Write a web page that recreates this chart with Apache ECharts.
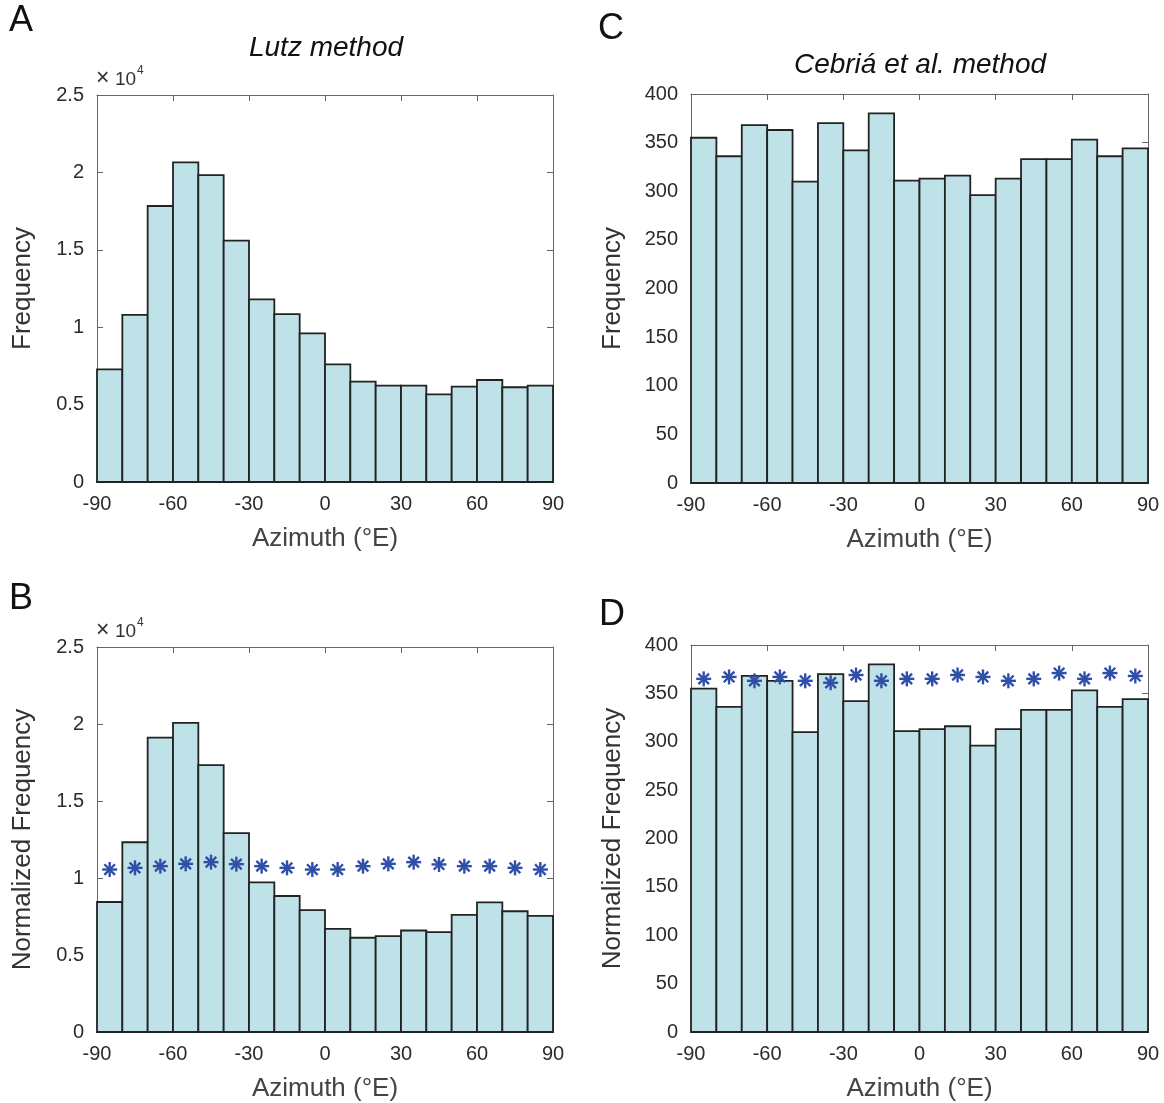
<!DOCTYPE html>
<html>
<head>
<meta charset="utf-8">
<script src="https://cdn.jsdelivr.net/npm/echarts@6/dist/echarts.min.js"></script>
<style>
  html, body { margin: 0; padding: 0; background: #fff; }
  #chart { width: 1164px; height: 1103px; }
</style>
</head>
<body>
<div id="chart"></div>
<script>
// bin edges of the azimuth histograms (°E)
const binEdges = [-90, -80, -70, -60, -50, -40, -30, -20, -10, 0, 10, 20, 30, 40, 50, 60, 70, 80, 90];
const binCenters = [-85, -75, -65, -55, -45, -35, -25, -15, -5, 5, 15, 25, 35, 45, 55, 65, 75, 85];

// A: Lutz method, raw counts
const lutzCounts = [7280, 10790, 17830, 20650, 19830, 15590, 11800, 10850, 9600, 7600, 6480, 6220, 6230, 5660, 6160, 6590, 6120, 6230];
// B: Lutz method, normalized counts and asterisk values
const lutzNormalized = [8440, 12320, 19120, 20070, 17330, 12920, 9710, 8830, 7920, 6700, 6120, 6220, 6590, 6480, 7600, 8420, 7840, 7540];
const lutzStars = [10550, 10660, 10770, 10920, 11030, 10900, 10770, 10660, 10550, 10550, 10770, 10920, 11030, 10880, 10770, 10770, 10660, 10550];
// C: Cebriá et al. method, counts
const cebriaCounts = [355, 336, 368, 363, 310, 370, 342, 380, 311, 313, 316, 296, 313, 333, 333, 353, 336, 344];
// D: same counts plus asterisks
const cebriaStars = [365, 367, 363, 367, 363, 361, 369, 363, 365, 365, 369, 367, 363, 365, 371, 365, 371, 368];

const chart = echarts.init(document.getElementById('chart'));

const FONT = '"Liberation Sans", Arial, sans-serif';
const TICK_COLOR = '#2b2b2b';
const FRAME_COLOR = '#666';

const grids = [
  { left: 97, top: 95, width: 456, height: 387 },   // A
  { left: 691, top: 94, width: 457, height: 389 },  // C
  { left: 97, top: 647, width: 456, height: 386 },  // B
  { left: 691, top: 645, width: 457, height: 388 }  // D
];
const yNames = ['Frequency', 'Frequency', 'Normalized Frequency', 'Normalized Frequency'];
const yMax = [25000, 400, 25000, 400];
const yStep = [5000, 50, 5000, 50];
const yFmt = [
  v => String(v / 10000),
  v => String(v),
  v => String(v / 10000),
  v => String(v)
];

const frameLine = { show: true, onZero: false, lineStyle: { color: FRAME_COLOR, width: 1 } };
const frameTick = { show: true, inside: true, length: 6, lineStyle: { color: FRAME_COLOR } };

const xAxes = [];
const yAxes = [];
grids.forEach((g, i) => {
  xAxes.push({
    type: 'value', gridIndex: i, min: -90, max: 90, interval: 30, position: 'bottom',
    name: 'Azimuth (°E)', nameLocation: 'middle', nameGap: 44,
    nameTextStyle: { fontFamily: FONT, fontSize: 26, color: '#444' },
    axisLine: frameLine,
    axisTick: frameTick,
    axisLabel: { fontFamily: FONT, fontSize: 20, color: TICK_COLOR, margin: 12 },
    splitLine: { show: false }
  });
  xAxes.push({
    type: 'value', gridIndex: i, min: -90, max: 90, interval: 30, position: 'top',
    axisLine: frameLine,
    axisTick: frameTick,
    axisLabel: { show: false },
    splitLine: { show: false }
  });
  yAxes.push({
    type: 'value', gridIndex: i, min: 0, max: yMax[i], interval: yStep[i], position: 'left',
    name: yNames[i], nameLocation: 'middle', nameGap: i % 2 === 0 ? 61 : 65, nameRotate: 90,
    nameTextStyle: { fontFamily: FONT, fontSize: 26, color: '#333' },
    axisLine: frameLine,
    axisTick: frameTick,
    axisLabel: { fontFamily: FONT, fontSize: 20, color: TICK_COLOR, margin: 13, formatter: yFmt[i] },
    splitLine: { show: false }
  });
  yAxes.push({
    type: 'value', gridIndex: i, min: 0, max: yMax[i], interval: yStep[i], position: 'right',
    axisLine: frameLine,
    axisTick: frameTick,
    axisLabel: { show: false },
    splitLine: { show: false }
  });
});

function histSeries(gi, values) {
  return {
    type: 'custom',
    xAxisIndex: gi * 2,
    yAxisIndex: gi * 2,
    z: 3,
    data: values.map((v, i) => [binEdges[i], binEdges[i + 1], v]),
    encode: { x: [0, 1], y: 2 },
    renderItem(params, api) {
      const p0 = api.coord([api.value(0), api.value(2)]);
      const p1 = api.coord([api.value(1), 0]);
      return {
        type: 'rect',
        shape: { x: p0[0], y: p0[1], width: p1[0] - p0[0], height: p1[1] - p0[1] },
        style: { fill: '#bfe2e8', stroke: '#222', lineWidth: 1.8 }
      };
    }
  };
}

// MATLAB style '*' marker: 4 crossing strokes
function starSeries(gi, values) {
  return {
    type: 'custom',
    xAxisIndex: gi * 2,
    yAxisIndex: gi * 2,
    z: 5,
    data: values.map((v, i) => [binCenters[i], v]),
    encode: { x: 0, y: 1 },
    renderItem(params, api) {
      const c = api.coord([api.value(0), api.value(1)]);
      const r = 7.5, d = 5.3;
      const st = { stroke: '#2f4fa8', lineWidth: 2.4 };
      return {
        type: 'group',
        children: [
          { type: 'line', shape: { x1: c[0], y1: c[1] - r, x2: c[0], y2: c[1] + r }, style: st },
          { type: 'line', shape: { x1: c[0] - r, y1: c[1], x2: c[0] + r, y2: c[1] }, style: st },
          { type: 'line', shape: { x1: c[0] - d, y1: c[1] - d, x2: c[0] + d, y2: c[1] + d }, style: st },
          { type: 'line', shape: { x1: c[0] - d, y1: c[1] + d, x2: c[0] + d, y2: c[1] - d }, style: st }
        ]
      };
    }
  };
}

function label(text, x, y, size, fill) {
  return {
    type: 'text', left: x, top: y,
    style: { text: text, fontFamily: FONT, fontSize: size, fill: fill || '#111' }
  };
}

chart.setOption({
  backgroundColor: '#fff',
  animation: false,
  grid: grids,
  xAxis: xAxes,
  yAxis: yAxes,
  title: [
    { text: 'Lutz method', left: 321, top: 29, textAlign: 'center',
      textStyle: { fontFamily: FONT, fontSize: 28, fontStyle: 'italic', fontWeight: 'normal', color: '#111' } },
    { text: 'Cebriá et al. method', left: 915, top: 46, textAlign: 'center',
      textStyle: { fontFamily: FONT, fontSize: 28, fontStyle: 'italic', fontWeight: 'normal', color: '#111' } }
  ],
  graphic: [
    label('A', 9, 3, 36),
    label('C', 598, 11, 36),
    label('B', 9, 581, 36),
    label('D', 599, 597, 36),
    label('×', 96, 67, 23, '#333'),
    label('10', 115, 70, 19, '#333'),
    label('4', 137, 65, 12, '#333'),
    label('×', 96, 619, 23, '#333'),
    label('10', 115, 622, 19, '#333'),
    label('4', 137, 617, 12, '#333')
  ],
  series: [
    histSeries(0, lutzCounts),
    histSeries(1, cebriaCounts),
    histSeries(2, lutzNormalized),
    starSeries(2, lutzStars),
    histSeries(3, cebriaCounts),
    starSeries(3, cebriaStars)
  ]
});
</script>
</body>
</html>
